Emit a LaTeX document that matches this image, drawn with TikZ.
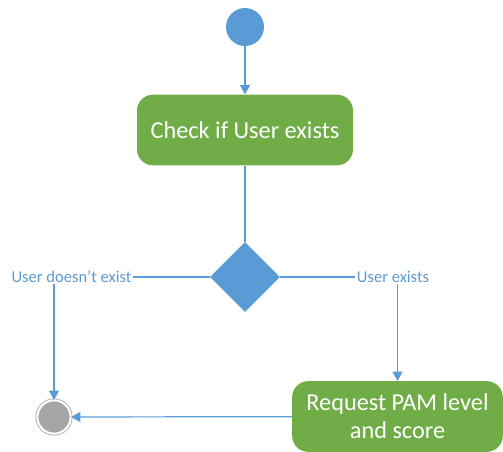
\documentclass[tikz,border=0pt]{standalone}
\usepackage{fontspec}
\setmainfont{Carlito}
\usetikzlibrary{arrows.meta}
\usetikzlibrary{shapes}
\definecolor{umlblue}{HTML}{5B9BD5}
\definecolor{umlgreen}{HTML}{70AD47}
\definecolor{umlgray}{HTML}{A5A5A5}
\tikzset{
  action/.style={draw=none,fill=umlgreen,rectangle,rounded corners=12pt,align=center,text=white,font=\fontsize{18.2}{21}\selectfont},
  guard/.style={inner sep=1pt,text=umlblue,font=\fontsize{12.4}{14}\selectfont},
  flow/.style={draw=umlblue,line width=0.9pt,-{Triangle[width=7.5pt,length=7pt]}},
  link/.style={draw=umlblue,line width=0.9pt}
}

\begin{document}
\begin{tikzpicture}[x=0.75pt,y=-0.75pt]
            \useasboundingbox (0,0) rectangle (503,451);
            \node (start) at (245,27)[circle,fill=umlblue,minimum size=28.5pt,inner sep=0pt]{};
            \node (check) at (245,130)[action,minimum width=162pt,minimum height=53pt]{Check if User exists};
            \node (dec) at (245,277)[diamond,fill=umlblue,minimum width=52.5pt,minimum height=52.5pt,inner sep=0pt]{};
            \node (lno) at (71.5,277)[guard]{User doesn’t exist};
            \node (lyes) at (393,277)[guard]{User exists};
            \node (request) at (397.5,416.5)[action,minimum width=158pt,minimum height=53pt]{Request PAM level\\and score};
            \node (final) at (54,417)[circle,fill=umlgray,draw=umlgray,line width=0.6pt,double=white,double distance=1.6pt,minimum size=25pt,inner sep=0pt]{};
            \draw [flow] (start)--(check);
            \draw [link] (check)--(dec);
            \draw [link] (dec.west)--(lno.east);
            \draw [link] (dec.east)--(lyes.west);
            \draw [flow] (final |- lno.south)--(final);
            \draw [flow] (request |- lyes.south)--(request);
            \draw [flow] (request)--(final);
        \end{tikzpicture}
\end{document}
